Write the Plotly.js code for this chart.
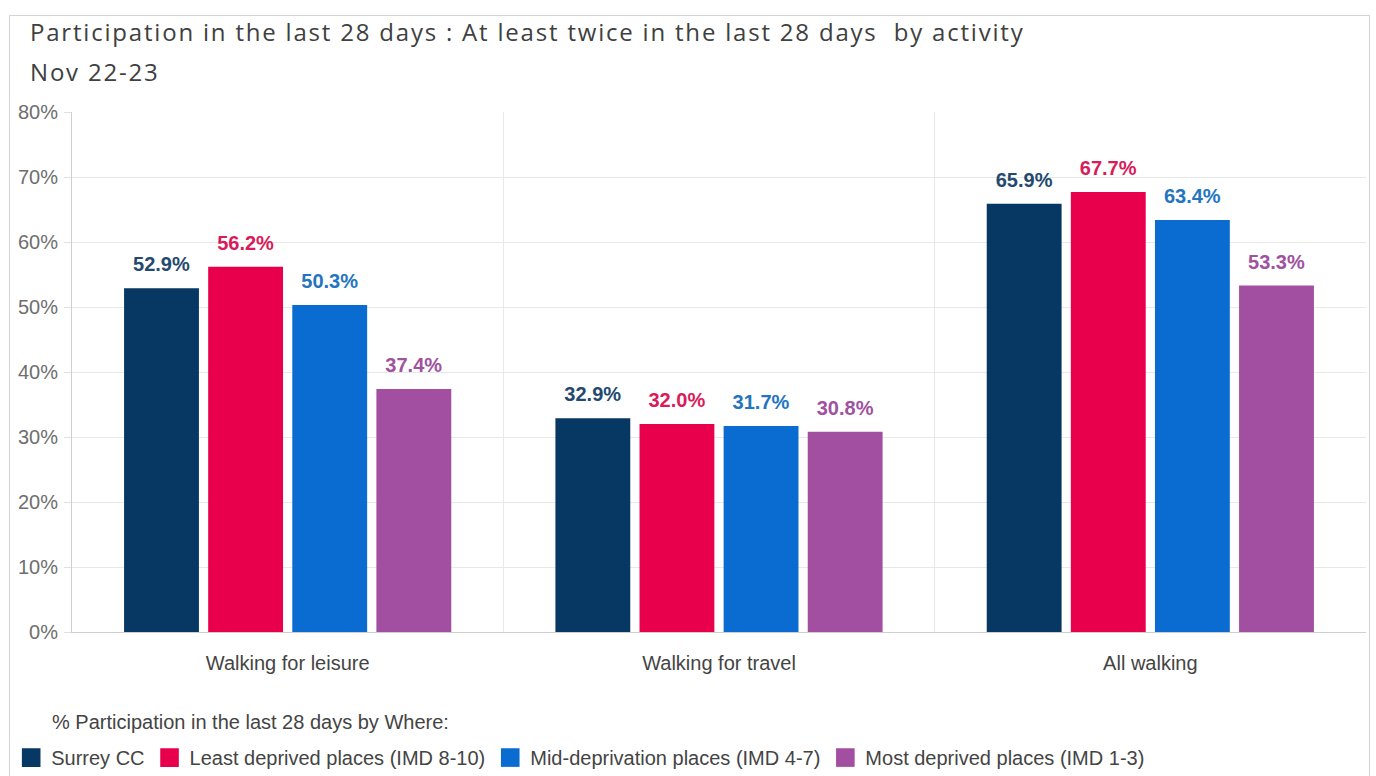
<!DOCTYPE html>
<html>
<head>
<meta charset="utf-8">
<script src="https://cdn.plot.ly/plotly-3.0.1.min.js"></script>
<style>
  html, body { margin: 0; padding: 0; background: #ffffff; overflow: hidden; }
  #frame { position: absolute; left: 9px; top: 15px; width: 1359px; height: 800px; border: 1px solid #d4d4d4; }
  #chart { position: absolute; left: 0; top: 0; width: 1376px; height: 776px; }
</style>
</head>
<body>
<div id="frame"></div>
<div id="chart"></div>
<script>
const categories = ["Walking for leisure", "Walking for travel", "All walking"];
const seriesNames = ["Surrey CC", "Least deprived places (IMD 8-10)", "Mid-deprivation places (IMD 4-7)", "Most deprived places (IMD 1-3)"];
const surreyCC = [52.9, 32.9, 65.9];
const leastDeprived = [56.2, 32.0, 67.7];
const midDeprivation = [50.3, 31.7, 63.4];
const mostDeprived = [37.4, 30.8, 53.3];
const seriesColors = ["#073763", "#e8004c", "#0a6bd0", "#a24fa1"];
const labelColors = ["#24496e", "#d81c5a", "#2475c0", "#a0529f"];
const yTicks = [0, 10, 20, 30, 40, 50, 60, 70, 80];

const values = [surreyCC, leastDeprived, midDeprivation, mostDeprived];
const ARIAL = "Liberation Sans, Arial, sans-serif";

const traces = values.map((v, i) => ({
  type: "bar",
  name: seriesNames[i],
  x: categories,
  y: v,
  marker: { color: seriesColors[i] },
  texttemplate: "<span style=\"font-size:20px\">%{y:.1f}%</span><br> ",
  textposition: "outside",
  cliponaxis: false,
  textfont: { family: ARIAL, size: 9, color: labelColors[i], weight: "bold" },
  hoverinfo: "skip"
}));

const layout = {
  width: 1376,
  height: 776,
  margin: { l: 72, r: 10, t: 112, b: 144, autoexpand: false },
  paper_bgcolor: "rgba(0,0,0,0)",
  plot_bgcolor: "rgba(0,0,0,0)",
  barmode: "group",
  bargap: 0.22,
  bargroupgap: 0.11,
  showlegend: true,
  font: { family: ARIAL, size: 20, color: "#444" },
  xaxis: {
    type: "category",
    tickson: "boundaries",
    showgrid: true,
    gridcolor: "#e8e8e8",
    showline: true,
    linecolor: "#cfcfcf",
    ticks: "",
    tickfont: { family: ARIAL, size: 20, color: "#444" },
    ticklabelstandoff: 13
  },
  yaxis: {
    range: [0, 80],
    tickvals: yTicks,
    ticktext: yTicks.map(t => t + "%"),
    showgrid: true,
    gridcolor: "#e8e8e8",
    showline: true,
    linecolor: "#cfcfcf",
    ticks: "outside",
    ticklen: 7,
    tickcolor: "#e0e0e0",
    zeroline: false,
    ticklabelstandoff: 2,
    tickfont: { family: ARIAL, size: 20, color: "#6e6e6e" }
  },
  legend: {
    orientation: "h",
    x: -0.047,
    xanchor: "left",
    y: -0.204,
    yanchor: "top",
    font: { family: ARIAL, size: 20, color: "#444" },
    itemclick: false,
    traceorder: "normal"
  },
  annotations: [
    {
      text: "Participation in the last 28 days : At least twice in the last 28 days  by activity",
      xref: "paper", yref: "paper", x: -0.034, y: 1.155, xanchor: "left", yanchor: "middle",
      showarrow: false, font: { family: "Open Sans, sans-serif", size: 24, color: "#404040" }
    },
    {
      text: "Nov 22-23",
      xref: "paper", yref: "paper", x: -0.034, y: 1.077, xanchor: "left", yanchor: "middle",
      showarrow: false, font: { family: "Open Sans, sans-serif", size: 24, color: "#404040" }
    },
    {
      text: "% Participation in the last 28 days by Where:",
      xref: "paper", yref: "paper", x: -0.017, y: -0.173, xanchor: "left", yanchor: "middle",
      showarrow: false, font: { family: ARIAL, size: 20, color: "#444" }
    }
  ]
};

Plotly.newPlot("chart", traces, layout, { displayModeBar: false, staticPlot: true }).then(gd => {
  gd.querySelectorAll(".legendpoints path").forEach(p => {
    const t = p.getAttribute("transform") || "";
    p.setAttribute("transform", t + " scale(1.55)");
  });
  const ann = gd.querySelectorAll(".annotation-text");
  for (let k = 0; k < 2 && k < ann.length; k++) {
    const el = ann[k];
    const before = el.getBBox();
    el.style.letterSpacing = "1.8px";
    const after = el.getBBox();
    const dx = before.x - after.x;
    const t = el.getAttribute("transform") || "";
    el.setAttribute("transform", t + " translate(" + dx + ",0)");
  }
});
</script>
</body>
</html>
